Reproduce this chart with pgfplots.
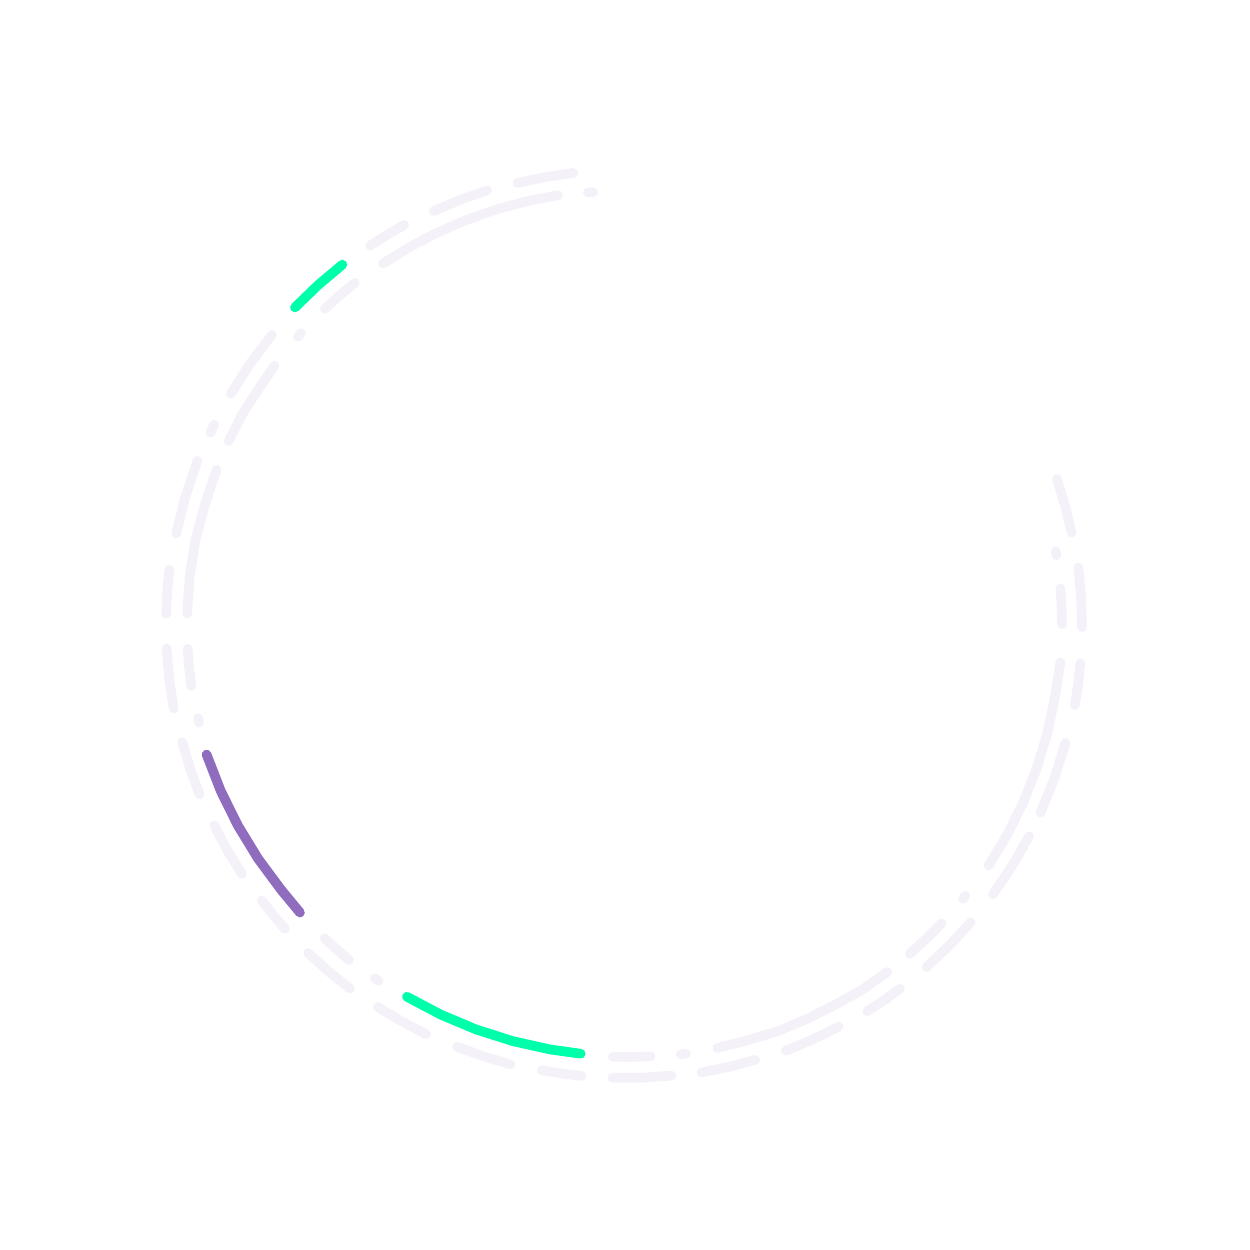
\documentclass[border=0pt]{standalone}
\usepackage{pgfplots}
\pgfplotsset{compat=1.18}
\usepgfplotslibrary{polar}
\definecolor{track}{RGB}{244,241,249}
\definecolor{mint}{RGB}{0,255,170}
\definecolor{violet}{RGB}{143,108,190}
\begin{document}
\begin{tikzpicture}
\begin{polaraxis}[
  hide axis, scale only axis, width=10cm, height=10cm,
  ymin=0, ymax=625, clip=false,
  unbounded coords=jump,
  every axis plot/.append style={line cap=round, line join=round, mark=none},
]
% invisible frame to fix the picture size
\addplot[draw=none] coordinates {(0,625) (90,625) (180,625) (270,625)};
% outer track (dashes)
\addplot[track, line width=2.2pt] coordinates {
(11.7,456) (15.2,456) (18.7,456) (nan,nan)
(-0.25,457) (3.5,457) (7.25,457) (nan,nan)
(-10.1,457) (-7.45,457) (-4.8,457) (nan,nan)
(-24.3,456) (-19.65,456) (-15.0,456) (nan,nan)
(-36.2,456) (-31.9,456) (-27.6,456) (nan,nan)
(-48.6,456) (-44.65,456) (-40.7,456) (nan,nan)
(-57.9,456) (-55.4,456) (-52.9,456) (nan,nan)
(-69.3,455) (-65.65,455) (-62.0,455) (nan,nan)
(-80.3,454) (-76.8,454) (-73.3,454) (nan,nan)
(-91.6,453) (-87.85,453) (-84.1,453) (nan,nan)
(-100.6,453) (-98.05,453) (-95.5,453) (nan,nan)
(-111.7,454) (-108.15,454) (-104.6,454) (nan,nan)
(-122.9,455) (-119.4,455) (-115.9,455) (nan,nan)
(-134.0,456) (-130.55,456) (-127.1,456) (nan,nan)
(-142.8,456) (-140.5,456) (-138.2,456) (nan,nan)
(-154.0,457) (-150.5,457) (-147.0,457) (nan,nan)
(-165.2,458) (-161.75,458) (-158.3,458) (nan,nan)
(-177.1,459) (-173.3,459) (-169.5,459) (nan,nan)
(173.1,459) (175.85,459) (178.6,459) (nan,nan)
(159.0,458) (163.75,458) (168.5,458) (nan,nan)
(154.0,457) (155.1,457) (nan,nan)
(140.6,457) (145.1,457) (149.6,457) (nan,nan)
(118.9,457) (121.4,457) (123.9,457) (nan,nan)
(107.6,456) (111.2,456) (114.8,456) (nan,nan)
(96.5,455) (100.1,455) (103.7,455)
};
% inner track (dashes)
\addplot[track, line width=2.2pt] coordinates {
(9.2,437) (9.7,437) (nan,nan)
(0.1,437) (2.45,437) (4.8,437) (nan,nan)
(-33.5,436) (-28.6,436) (-23.7,436) (-19.2,436) (-14.3,436) (-9.6,436) (-4.9,437) (nan,nan)
(-39.0,435) (-38.5,435) (nan,nan)
(-49.1,435) (-46.2,435) (-43.3,435) (nan,nan)
(-77.7,433) (-73.6,433) (-69.4,434) (-65.3,434) (-61.1,434) (-57.0,435) (-52.9,435) (nan,nan)
(-82.6,433) (-81.9,433) (nan,nan)
(-91.6,432) (-89.1,432) (-86.6,432) (nan,nan)
(-125.3,433) (-124.7,433) (nan,nan)
(-133.8,434) (-131.65,434) (-129.5,434) (nan,nan)
(-167.7,437) (-167.1,437) (nan,nan)
(-176.9,438) (-174.45,438) (-172.0,438) (nan,nan)
(159.2,437) (164.0,437) (168.9,438) (173.7,438) (178.5,438) (nan,nan)
(143.5,436) (147.4,436) (151.2,437) (155.1,437) (nan,nan)
(138.0,436) (138.6,436) (nan,nan)
(128.3,436) (130.9,436) (133.5,436) (nan,nan)
(98.85,435) (103.0,435) (107.2,435) (111.4,435) (115.6,435) (119.7,435) (123.8,435) (nan,nan)
(94.2,434) (94.9,434)
};
% value arcs
\addplot[mint, line width=2.2pt] coordinates {
(128.1,458) (132.1,458) (136.1,458)
};
\addplot[violet, line width=2.2pt] coordinates {
(-162.8,438) (-157.7,437) (-152.6,436) (-147.5,435) (-142.4,434) (-138.5,434)
};
\addplot[mint, line width=2.2pt] coordinates {
(-120.4,431) (-115.3,431) (-110.2,431) (-105.1,431) (-100.0,431) (-95.9,431)
};
\end{polaraxis}
\end{tikzpicture}
\end{document}
